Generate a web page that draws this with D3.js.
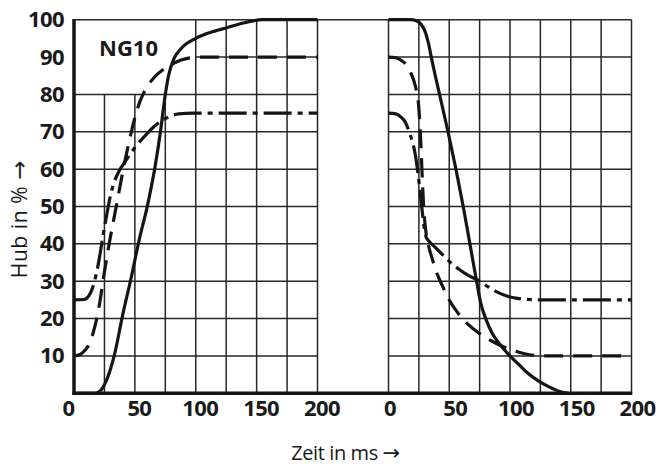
<!DOCTYPE html>
<html>
<head>
<meta charset="utf-8">
<script src="https://cdn.jsdelivr.net/npm/d3@7"></script>
<style>
  html, body { margin: 0; padding: 0; background: #fff; }
  svg { display: block; }
</style>
</head>
<body>
<svg id="chart" width="656" height="473"></svg>
<script>
// ---- data ----
const timeTicks = [0, 50, 100, 150, 200];
const hubTicks = [10, 20, 30, 40, 50, 60, 70, 80, 90, 100];
const label = "NG10";
const yTitle = "Hub in %";
const xTitle = "Zeit in ms";
const arrow = "\u2192";

// opening (left panel): [ms, %]
const openSolid = [[0,0],[17,0],[22,0.8],[26,3],[29.5,6],[33,10],[40,21],[47,31],[53.5,41],[60.5,50.5],[66.5,60.5],[71,70],[75,80],[78,85.5],[82,89.5],[88,92.3],[100,95],[112,96.6],[125,97.8],[140,99.2],[155,100],[200,100]];
const openDashed = [[0,10],[5,10.4],[9,11.5],[13,13.5],[16,16.5],[19,20.5],[21.5,25],[24,30.5],[27,36.5],[30,42],[33.5,48],[37,54],[40.5,60],[44,65.5],[47.5,70.5],[51,75],[55,78.8],[60,82],[66,84.6],[73,86.6],[80,88],[88,89.2],[95,89.8],[102,90],[200,90]];
const openDashDot = [[0,25],[8,25.1],[12,26],[15,28],[18,31.5],[21,36.5],[24,42.5],[27,48],[30,53],[33,56.5],[37,59.5],[42,62],[50,65.8],[58,68.8],[66,71.5],[75,73.5],[86,74.8],[98,75],[200,75]];

// closing (right panel): [ms, %]
const closeSolid = [[0,100],[18,100],[23,99.7],[27,98.7],[30.5,96.5],[33,93.5],[35.5,89.5],[38.5,85],[42,80],[49,70],[55.5,60],[61.5,50],[67,40],[72.5,30],[76,24],[80,20],[85,16.3],[90,13.8],[95,11.8],[100,10],[107,7.8],[115,5.3],[124,3.2],[133,1.6],[141,0.5],[148,0]];
const closeDashed = [[0,90],[6,89.8],[11,89],[15,87.8],[18,86],[20.5,84],[23,81],[24.8,77],[26,71],[27,64],[28,56],[29,49.5],[30.5,44],[33,39.5],[36,36],[40,32],[44,29],[50,25],[56,22],[63,19.2],[70,17.2],[78,15.3],[86,13.8],[95,12.4],[103,11.4],[112,10.6],[122,10.1],[130,10],[200,10]];
const closeDashDot = [[0,75],[6,74.8],[10,74],[14,72.5],[17,70],[19.5,67.5],[22,64],[24,59.5],[26,54],[28,48],[29.5,44],[31,41.8],[34,40.5],[38,39.2],[43,37.6],[50,35.3],[58,33.2],[66,31.5],[74,30.2],[82,28.5],[90,27],[98,26],[106,25.4],[115,25.1],[125,25],[200,25]];

// ---- layout ----
const svg = d3.select("#chart");
const xL = d3.scaleLinear().domain([0, 200]).range([74, 317.5]);
const xR = d3.scaleLinear().domain([0, 200]).range([388.5, 631.5]);
const y = d3.scaleLinear().domain([0, 100]).range([393.3, 19.7]);

const gridColor = "#262626";
const lineColor = "#151515";
const grid = svg.append("g").attr("stroke", gridColor).attr("stroke-width", 1.5);

// left panel grid
[10,20,30,40,50,60,70,80].forEach(v => {
  grid.append("line").attr("x1", xL(0)).attr("x2", xL(200)).attr("y1", y(v)).attr("y2", y(v));
});
grid.append("line").attr("x1", xL(100)).attr("x2", xL(200)).attr("y1", y(90)).attr("y2", y(90));
[25,50,75].forEach(v => {
  grid.append("line").attr("x1", xL(v)).attr("x2", xL(v)).attr("y1", y(0)).attr("y2", y(80));
});
[100,125,150,175,200].forEach(v => {
  grid.append("line").attr("x1", xL(v)).attr("x2", xL(v)).attr("y1", y(0)).attr("y2", y(100));
});
// right panel grid
[10,20,30,40,50,60,70,80,90].forEach(v => {
  grid.append("line").attr("x1", xR(0)).attr("x2", xR(200)).attr("y1", y(v)).attr("y2", y(v));
});
[0,25,50,75,100,125,150,175,200].forEach(v => {
  grid.append("line").attr("x1", xR(v)).attr("x2", xR(v)).attr("y1", y(0)).attr("y2", y(100));
});
// top line spanning both panels
grid.append("line").attr("x1", xL(0)).attr("x2", xR(200)).attr("y1", y(100)).attr("y2", y(100));

// thick axes
svg.append("line").attr("x1", xL(0)).attr("x2", xL(0)).attr("y1", y(0) + 1.5).attr("y2", y(100) - 0.75)
  .attr("stroke", lineColor).attr("stroke-width", 3.5);
svg.append("line").attr("x1", xL(0) - 1.75).attr("x2", xR(200) + 0.75).attr("y1", y(0)).attr("y2", y(0))
  .attr("stroke", lineColor).attr("stroke-width", 3.5);

// curves
function drawCurve(data, xs, dash) {
  const gen = d3.line().x(d => xs(d[0])).y(d => y(d[1])).curve(d3.curveMonotoneX);
  svg.append("path").attr("d", gen(data))
    .attr("fill", "none").attr("stroke", lineColor).attr("stroke-width", 3.2)
    .attr("stroke-linejoin", "round")
    .attr("stroke-dasharray", dash);
}
const DASH = "19,10";
const DASHDOT = "28,6,5,6";
drawCurve(openDashDot, xL, DASHDOT);
drawCurve(openDashed, xL, DASH);
drawCurve(openSolid, xL, null);
drawCurve(closeDashDot, xR, DASHDOT);
drawCurve(closeDashed, xR, DASH);
drawCurve(closeSolid, xR, null);

// axes labels
const font = "'Open Sans', 'Liberation Sans', sans-serif";
function styleAxis(g) {
  g.select(".domain").remove();
  g.selectAll(".tick line").remove();
  g.attr("font-family", font).attr("font-size", 22).attr("font-weight", 700);
  g.selectAll("text").attr("fill", "#1a1a1a").attr("letter-spacing", "-0.6");
}
const gyL = svg.append("g").attr("transform", `translate(${xL(0)},0)`)
  .call(d3.axisLeft(y).tickValues(hubTicks).tickSize(0).tickPadding(10));
styleAxis(gyL);

const gxL = svg.append("g").attr("transform", `translate(0,${y(0)})`)
  .call(d3.axisBottom(xL).tickValues(timeTicks).tickSize(0).tickPadding(7));
styleAxis(gxL);
gxL.selectAll(".tick text").attr("dx", d => d === 0 ? -6 : 4);

const gxR = svg.append("g").attr("transform", `translate(0,${y(0)})`)
  .call(d3.axisBottom(xR).tickValues(timeTicks).tickSize(0).tickPadding(7));
styleAxis(gxR);
gxR.selectAll(".tick text").attr("dx", d => d === 0 ? 1 : 5.5);

// NG10 label
svg.append("text").attr("x", 99).attr("y", 55.5)
  .attr("font-family", font).attr("font-size", 22).attr("font-weight", 700)
  .attr("fill", "#1a1a1a").text(label);

// axis titles
const yt = svg.append("text")
  .attr("transform", `translate(27,219) rotate(-90)`)
  .attr("text-anchor", "middle")
  .attr("font-family", font).attr("font-size", 21).attr("letter-spacing", "0.6")
  .attr("fill", "#1a1a1a");
yt.append("tspan").text(yTitle + " ");
yt.append("tspan").attr("font-family", "'DejaVu Sans', sans-serif").attr("font-size", 23).text(arrow);

const xt = svg.append("text")
  .attr("x", 345.5).attr("y", 460)
  .attr("text-anchor", "middle")
  .attr("font-family", font).attr("font-size", 20).attr("letter-spacing", "-0.4")
  .attr("fill", "#1a1a1a");
xt.append("tspan").text(xTitle + " ");
xt.append("tspan").attr("font-family", "'DejaVu Sans', sans-serif").attr("font-size", 21).text(arrow);
</script>
</body>
</html>
